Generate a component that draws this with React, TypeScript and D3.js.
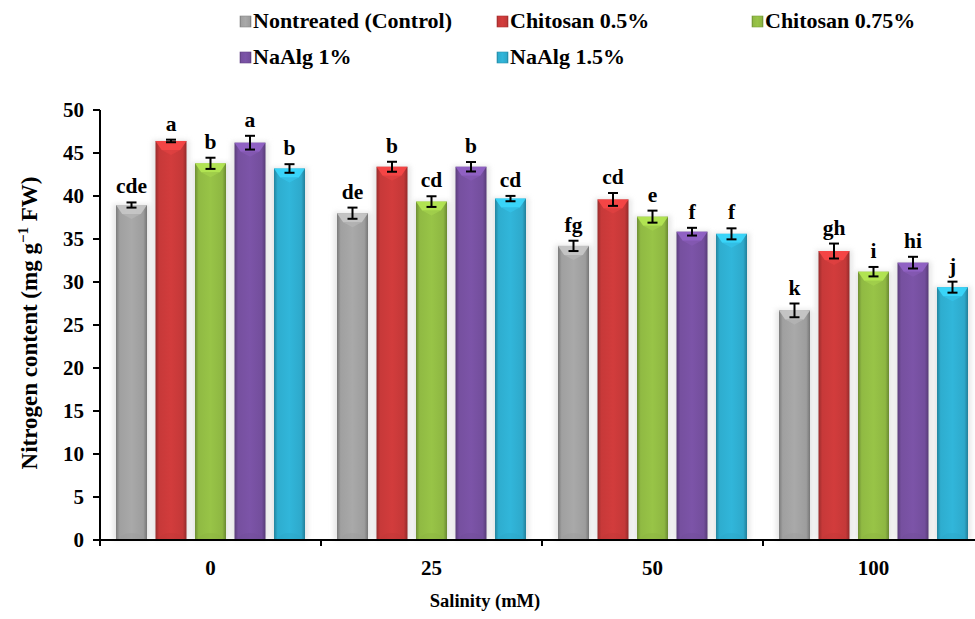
import React, { useEffect, useRef } from 'react';
import * as d3 from 'd3';

const GROUPS = ['0', '25', '50', '100'];
const SERIES = ['Nontreated (Control)', 'Chitosan 0.5%', 'Chitosan 0.75%', 'NaAlg 1%', 'NaAlg 1.5%'];
const COLORS = ['#a9a9a9', '#d23c3c', '#98c447', '#7c54a8', '#31b6da'];

// values per series, one entry per salinity level
const CONTROL = [38.95, 38.0, 34.2, 26.7];
const CHITOSAN_05 = [46.4, 43.4, 39.6, 33.6];
const CHITOSAN_075 = [43.8, 39.35, 37.6, 31.2];
const NAALG_1 = [46.2, 43.4, 35.85, 32.25];
const NAALG_15 = [43.2, 39.7, 35.6, 29.4];

const ERR_CONTROL = [0.3, 0.65, 0.6, 0.8];
const ERR_CHITOSAN_05 = [0.15, 0.58, 0.75, 0.87];
const ERR_CHITOSAN_075 = [0.65, 0.62, 0.7, 0.55];
const ERR_NAALG_1 = [0.8, 0.55, 0.45, 0.68];
const ERR_NAALG_15 = [0.5, 0.31, 0.64, 0.64];

const LET_CONTROL = ['cde', 'de', 'fg', 'k'];
const LET_CHITOSAN_05 = ['a', 'b', 'cd', 'gh'];
const LET_CHITOSAN_075 = ['b', 'cd', 'e', 'i'];
const LET_NAALG_1 = ['a', 'b', 'f', 'hi'];
const LET_NAALG_15 = ['b', 'cd', 'f', 'j'];

const Y_TICKS = [0, 5, 10, 15, 20, 25, 30, 35, 40, 45, 50];

const VALUES = [CONTROL, CHITOSAN_05, CHITOSAN_075, NAALG_1, NAALG_15];
const ERRORS = [ERR_CONTROL, ERR_CHITOSAN_05, ERR_CHITOSAN_075, ERR_NAALG_1, ERR_NAALG_15];
const LETTERS = [LET_CONTROL, LET_CHITOSAN_05, LET_CHITOSAN_075, LET_NAALG_1, LET_NAALG_15];

const FONT = 'Liberation Serif, Times New Roman, Times, serif';

export default function App() {
  const svgRef = useRef<SVGSVGElement | null>(null);

  useEffect(() => {
    const svgEl = svgRef.current;
    if (!svgEl) return;
    const width = 975;
    const height = 619;
    const svg = d3.select(svgEl);
    svg.selectAll('*').remove();
    svg
      .attr('width', width)
      .attr('height', height)
      .attr('viewBox', `0 0 ${width} ${height}`)
      .style('font-family', FONT)
      .style('font-weight', 'bold');

    const left = 100;
    const bottom = 540;
    const top = 110;

    const x0 = d3.scaleBand<string>().domain(GROUPS).range([left, left + 221 * 4]);
    const x1 = d3
      .scaleBand<string>()
      .domain(SERIES)
      .range([0, x0.bandwidth()])
      .paddingInner(0.215)
      .paddingOuter(0.405);
    const y = d3.scaleLinear().domain([0, 50]).range([bottom, top]);

    const defs = svg.append('defs');
    COLORS.forEach((c, i) => {
      const base = d3.color(c)!;
      const g = defs
        .append('linearGradient')
        .attr('id', `bar-${i}`)
        .attr('x1', '0%')
        .attr('x2', '100%')
        .attr('y1', '0%')
        .attr('y2', '0%');
      g.append('stop').attr('offset', '0%').attr('stop-color', base.darker(0.9).toString());
      g.append('stop').attr('offset', '12%').attr('stop-color', base.darker(0.15).toString());
      g.append('stop').attr('offset', '50%').attr('stop-color', base.toString());
      g.append('stop').attr('offset', '88%').attr('stop-color', base.darker(0.2).toString());
      g.append('stop').attr('offset', '100%').attr('stop-color', base.darker(1.0).toString());
    });
    const blur = defs.append('filter').attr('id', 'halo').attr('x', '-50%').attr('width', '200%');
    blur.append('feGaussianBlur').attr('stdDeviation', 2.5);

    svg.append('rect').attr('width', width).attr('height', height).attr('fill', '#ffffff');

    // bars
    const bars = svg.append('g');
    SERIES.forEach((s, si) => {
      GROUPS.forEach((gName, gi) => {
        const v = VALUES[si][gi];
        const bx = (x0(gName) ?? 0) + (x1(s) ?? 0);
        const bw = x1.bandwidth();
        const by = y(v);
        const bh = y(0) - by;
        const base = d3.color(COLORS[si])!;

        bars
          .append('rect')
          .attr('x', bx - 3)
          .attr('y', by - 1)
          .attr('width', bw + 6)
          .attr('height', bh + 1)
          .attr('fill', '#d6d6d6')
          .attr('opacity', 0.6)
          .attr('filter', 'url(#halo)');
        bars
          .append('rect')
          .attr('x', bx)
          .attr('y', by)
          .attr('width', bw)
          .attr('height', bh)
          .attr('fill', `url(#bar-${si})`);
        // top bevel
        bars
          .append('path')
          .attr(
            'd',
            `M${bx},${by}L${bx + bw},${by}L${bx + bw * 0.8},${by + 9}L${bx + bw * 0.2},${by + 9}Z`
          )
          .attr('fill', base.brighter(0.5).toString())
          .attr('opacity', 0.85);
        bars
          .append('path')
          .attr('d', `M${bx + bw * 0.2},${by + 9}L${bx + bw * 0.8},${by + 9}L${bx + bw / 2},${by + 14}Z`)
          .attr('fill', base.brighter(0.25).toString())
          .attr('opacity', 0.6);
        // bottom soft shade (above baseline only)
        bars
          .append('path')
          .attr(
            'd',
            `M${bx + bw * 0.12},${bottom}A${bw * 0.38},7 0 0 1 ${bx + bw * 0.88},${bottom}Z`
          )
          .attr('fill', base.darker(0.25).toString())
          .attr('opacity', 0.45);
      });
    });

    // error bars + letters
    const errs = svg.append('g').attr('stroke', '#000').attr('stroke-width', 2);
    const lets = svg.append('g');
    SERIES.forEach((s, si) => {
      GROUPS.forEach((gName, gi) => {
        const v = VALUES[si][gi];
        const e = ERRORS[si][gi];
        const cx = (x0(gName) ?? 0) + (x1(s) ?? 0) + x1.bandwidth() / 2;
        const yt = y(v + e);
        const yb = y(v - e);
        errs.append('line').attr('x1', cx).attr('x2', cx).attr('y1', yt).attr('y2', yb);
        errs.append('line').attr('x1', cx - 5).attr('x2', cx + 5).attr('y1', yt).attr('y2', yt);
        errs.append('line').attr('x1', cx - 5).attr('x2', cx + 5).attr('y1', yb).attr('y2', yb);
        lets
          .append('text')
          .attr('x', cx)
          .attr('y', yt - 9)
          .attr('text-anchor', 'middle')
          .attr('font-size', 21.5)
          .text(LETTERS[si][gi]);
      });
    });

    // axes
    const ax = svg.append('g').attr('stroke', '#000').attr('stroke-width', 2);
    ax.append('line').attr('x1', left).attr('x2', left).attr('y1', top).attr('y2', bottom + 6);
    ax.append('line').attr('x1', left - 7).attr('x2', width).attr('y1', bottom).attr('y2', bottom);
    Y_TICKS.forEach(t => {
      ax.append('line').attr('x1', left - 7).attr('x2', left).attr('y1', y(t)).attr('y2', y(t));
    });
    GROUPS.forEach(g => {
      const gx = (x0(g) ?? 0) + x0.bandwidth();
      ax.append('line').attr('x1', gx).attr('x2', gx).attr('y1', bottom).attr('y2', bottom + 6);
    });

    const txt = svg.append('g').attr('fill', '#000');
    Y_TICKS.forEach(t => {
      txt
        .append('text')
        .attr('x', left - 16)
        .attr('y', y(t))
        .attr('dy', '0.35em')
        .attr('text-anchor', 'end')
        .attr('font-size', 21)
        .text(String(t));
    });
    GROUPS.forEach(g => {
      txt
        .append('text')
        .attr('x', (x0(g) ?? 0) + x0.bandwidth() / 2)
        .attr('y', 575)
        .attr('text-anchor', 'middle')
        .attr('font-size', 21)
        .text(g);
    });
    txt
      .append('text')
      .attr('x', 485)
      .attr('y', 607)
      .attr('text-anchor', 'middle')
      .attr('font-size', 18.5)
      .text('Salinity (mM)');
    const yt = txt
      .append('text')
      .attr('transform', `translate(37,${(top + bottom) / 2 - 2}) rotate(-90)`)
      .attr('text-anchor', 'middle')
      .attr('font-size', 23);
    yt.append('tspan').text('Nitrogen content (mg g');
    yt.append('tspan').attr('dy', -9).attr('font-size', 15).text('−1');
    yt.append('tspan').attr('dy', 9).text(' FW)');

    // legend
    const legendPos = [
      [240, 28],
      [497, 28],
      [752, 28],
      [240, 64],
      [497, 64],
    ];
    const lg = svg.append('g');
    SERIES.forEach((s, i) => {
      const [lx, ly] = legendPos[i];
      lg.append('rect')
        .attr('x', lx)
        .attr('y', ly - 12)
        .attr('width', 11)
        .attr('height', 11)
        .attr('fill', `url(#bar-${i})`)
        .attr('stroke', d3.color(COLORS[i])!.darker(0.6).toString())
        .attr('stroke-width', 0.6);
      lg.append('text')
        .attr('x', lx + 13)
        .attr('y', ly)
        .attr('font-size', 22)
        .text(s);
    });
  }, []);

  return <svg ref={svgRef} style={{ display: 'block', position: 'absolute', left: 0, top: 0 }} />;
}
